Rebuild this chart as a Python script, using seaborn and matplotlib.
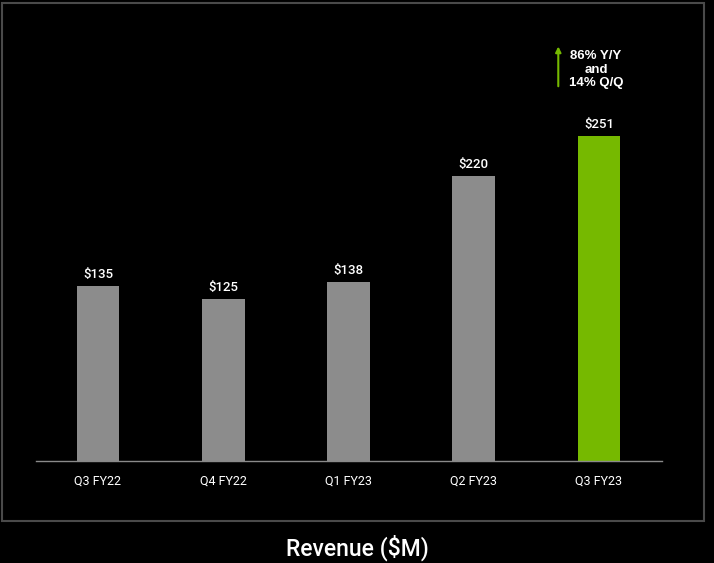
import matplotlib
matplotlib.use("Agg")
import matplotlib.pyplot as plt
import matplotlib.patches as mpatches
import seaborn as sns
import pandas as pd

# chart data
quarters = ["Q3 FY22", "Q4 FY22", "Q1 FY23", "Q2 FY23", "Q3 FY23"]
revenue = [135, 125, 138, 220, 251]
bar_colors = ["#8c8c8c", "#8c8c8c", "#8c8c8c", "#8c8c8c", "#76b900"]
growth_note = "86% Y/Y\nand\n14% Q/Q"
title = "Revenue ($M)"

df = pd.DataFrame({"quarter": quarters, "revenue": revenue})

sns.set_style("dark")
plt.rcParams["font.family"] = ["Roboto", "DejaVu Sans"]

W, H = 714, 563
fig = plt.figure(figsize=(W / 100, H / 100), dpi=100, facecolor="black")

# outer frame
fig.patches.append(mpatches.Rectangle((1.5 / W, 1 - 521 / H), 702 / W, 518 / H,
                                      transform=fig.transFigure, fill=False,
                                      edgecolor="#4a4a4a", linewidth=1.5))

ax = fig.add_axes([36 / W, 1 - 461 / H, 626 / W, 441 / H])
ax.set_facecolor("black")

sns.barplot(data=df, x="quarter", y="revenue", hue="quarter", palette=bar_colors,
            legend=False, width=0.343, saturation=1, linewidth=0, ax=ax)

ax.set_xlim(-0.495, 4.503)
ax.set_ylim(0, 441 / 1.296)

for i, v in enumerate(revenue):
    ax.text(i, v + 4, f"${v}", ha="center", va="bottom", color="white",
            fontsize=9.5, fontweight="medium")

for s in ["top", "right", "left"]:
    ax.spines[s].set_visible(False)
ax.spines["bottom"].set_color("#8a8a8a")
ax.spines["bottom"].set_linewidth(1)
ax.set_yticks([])
ax.tick_params(axis="x", length=0, colors="white", labelsize=9, pad=10)
ax.set_xlabel("")
ax.set_ylabel("")
ax.grid(False)

# growth annotation
ax.annotate("", xy=(3.675, 322), xytext=(3.675, 287),
            arrowprops=dict(arrowstyle="-|>", color="#76b900", lw=1.5,
                            mutation_scale=8))
ax.text(3.976, 302, growth_note, ha="center", va="center", color="white",
        fontsize=9.5, fontweight="bold", linespacing=1.15,
        family=["Liberation Sans", "DejaVu Sans"])

fig.text(0.5, 1 - 548 / H, title, ha="center", va="center", color="white",
         fontsize=16.5, fontweight="medium")

fig.savefig("out.png", dpi=100, facecolor="black")
